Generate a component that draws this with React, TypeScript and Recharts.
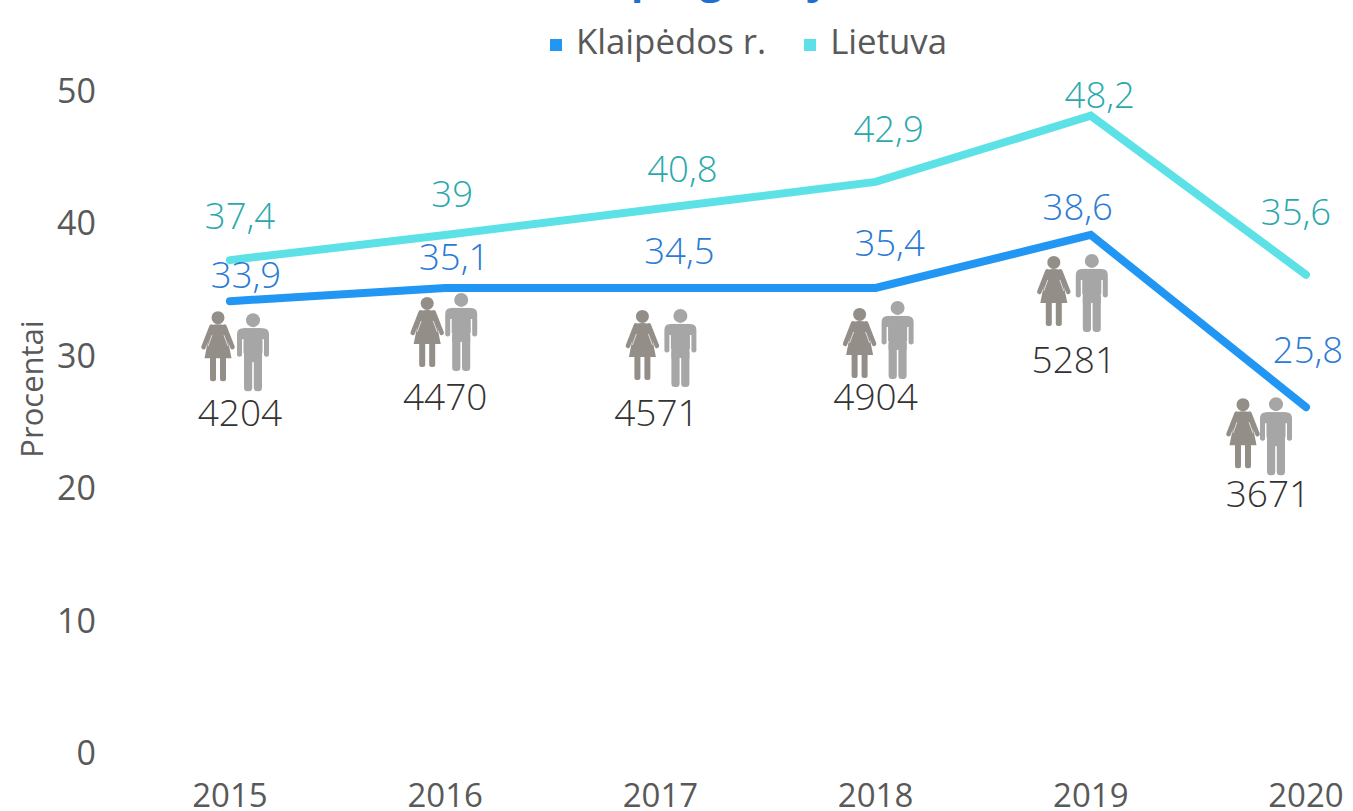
import React from "react";
import { LineChart, Line, XAxis, YAxis, Legend } from "recharts";

const years = ["2015", "2016", "2017", "2018", "2019", "2020"];
const klaipedaValues = [34.1, 35.1, 35.1, 35.1, 39.1, 26.1];
const lietuvaValues = [37.2, 39.1, 41.1, 43.1, 48.1, 36.1];
const klaipedaLabels = ["33,9", "35,1", "34,5", "35,4", "38,6", "25,8"];
const lietuvaLabels = ["37,4", "39", "40,8", "42,9", "48,2", "35,6"];
const peopleCounts = ["4204", "4470", "4571", "4904", "5281", "3671"];
const yTicks = [0, 10, 20, 30, 40, 50];

// label nudges from the line point, by year
const klaipedaNudge = [[16, -27], [9, -32], [19, -38], [14, -46], [-13, -29], [2, -58]];
const lietuvaNudge = [[10, -45], [7, -42], [22, -40], [13, -54], [9, -22], [-10, -64]];
const womanNudge = [[-12, 10], [-18, 9], [-18, 22], [-16, 20], [-37, 21], [-63, -9]];
const manNudge = [[23, 12], [16, 5], [20, 21], [22, 13], [1, 19], [-30, -10]];
const countNudge = [[10, 110], [0, 108], [-4, 124], [0, 108], [-17, 124], [-38, 85]];

const data = years.map((year, i) => ({
  year,
  klaipeda: klaipedaValues[i],
  lietuva: lietuvaValues[i],
}));

const WomanIcon = ({ x, y }: any) => (
  <g transform={`translate(${x},${y})`} fill="#948e89">
    <circle cx={0} cy={6.5} r={6.5} />
    <path d="M-7 14 Q0 12 7 14 L13.5 47 L-13.5 47 Z" />
    <path d="M-6.5 15.5 L-14.5 36" stroke="#948e89" strokeWidth={4.5} strokeLinecap="round" />
    <path d="M6.5 15.5 L14.5 36" stroke="#948e89" strokeWidth={4.5} strokeLinecap="round" />
    <path d="M-6 24 L-10 35 M6 24 L10 35" stroke="#ffffff" strokeWidth={1} opacity={0.7} />
    <rect x={-8} y={45} width={6} height={25} rx={2.5} />
    <rect x={2} y={45} width={6} height={25} rx={2.5} />
  </g>
);

const ManIcon = ({ x, y }: any) => (
  <g transform={`translate(${x},${y})`} fill="#a6a6a6">
    <circle cx={0} cy={7} r={7} />
    <rect x={-9} y={15} width={18} height={34} />
    <path d="M-16 21 Q-16 15 -10 15 L10 15 Q16 15 16 21 L16 42 Q13.5 45 11 42 L11 26 L9.5 26 L9.5 40 L-9.5 40 L-9.5 26 L-11 26 L-11 42 Q-13.5 45 -16 42 Z" />
    <rect x={-9} y={40} width={8.2} height={38} rx={3.5} />
    <rect x={0.8} y={40} width={8.2} height={38} rx={3.5} />
  </g>
);

const valueLabel = (texts: string[], nudge: number[][], color: string) => (props: any) => {
  const { x, y, index } = props;
  return (
    <text
      x={x + nudge[index][0]}
      y={y + nudge[index][1]}
      textAnchor="middle"
      dominantBaseline="central"
      fill={color}
      fontSize={36.5}
      fontWeight={300}
      fontFamily="'Open Sans'"
    >
      {texts[index]}
    </text>
  );
};

const peopleLabel = (props: any) => {
  const { x, y, index } = props;
  return (
    <g>
      <WomanIcon x={x + womanNudge[index][0]} y={y + womanNudge[index][1]} />
      <ManIcon x={x + manNudge[index][0]} y={y + manNudge[index][1]} />
      <text
        x={x + countNudge[index][0]}
        y={y + countNudge[index][1]}
        textAnchor="middle"
        dominantBaseline="central"
        fill="#333333"
        fontSize={37}
        fontWeight={300}
        fontFamily="'Open Sans'"
      >
        {peopleCounts[index]}
      </text>
      {valueLabel(klaipedaLabels, klaipedaNudge, "#2a7ad6")(props)}
    </g>
  );
};

export default function App() {
  return (
    <div style={{ position: "absolute", left: 0, top: 0, width: 1353, height: 811, overflow: "hidden" }}>
      <LineChart
        width={1353}
        height={811}
        data={data}
        margin={{ top: 43.5, right: 47, left: 0, bottom: 0 }}
        style={{ fontFamily: "'Open Sans'" }}
      >
        {/* title is cut off by the top edge, only the descenders show */}
        <text x="631 700 810" y={-6} fill="#1f6fd0" fontSize={40} fontWeight={700} fontFamily="'Open Sans'">
          pgj
        </text>
        <text
          transform="rotate(-90 31 389)"
          x={31}
          y={389}
          textAnchor="middle"
          dominantBaseline="central"
          fill="#595959"
          fontSize={31}
        >
          Procentai
        </text>
        <XAxis
          dataKey="year"
          axisLine={false}
          tickLine={false}
          interval={0}
          tick={{ fill: "#595959", fontSize: 33 }}
          tickMargin={25}
          height={58}
        />
        <YAxis
          domain={[0, 50]}
          ticks={yTicks}
          axisLine={false}
          tickLine={false}
          width={230}
          tickMargin={128}
          tick={{ fill: "#595959", fontSize: 34 }}
        />
        <Legend
          verticalAlign="top"
          iconType="square"
          iconSize={12}
          wrapperStyle={{ top: 17, left: 91, width: 1353, fontSize: 34.8, color: "#595959" }}
          formatter={(value: string) => (
            <span style={{ color: "#595959", marginLeft: 10, marginRight: 28 }}>{value}</span>
          )}
        />
        <Line
          dataKey="klaipeda"
          name="Klaipėdos r."
          stroke="#2196f3"
          strokeWidth={8}
          strokeLinecap="round"
          dot={false}
          isAnimationActive={false}
          label={peopleLabel}
        />
        <Line
          dataKey="lietuva"
          name="Lietuva"
          stroke="#5ce1e6"
          strokeWidth={8}
          strokeLinecap="round"
          dot={false}
          isAnimationActive={false}
          label={valueLabel(lietuvaLabels, lietuvaNudge, "#2aa9ad")}
        />
      </LineChart>
    </div>
  );
}
